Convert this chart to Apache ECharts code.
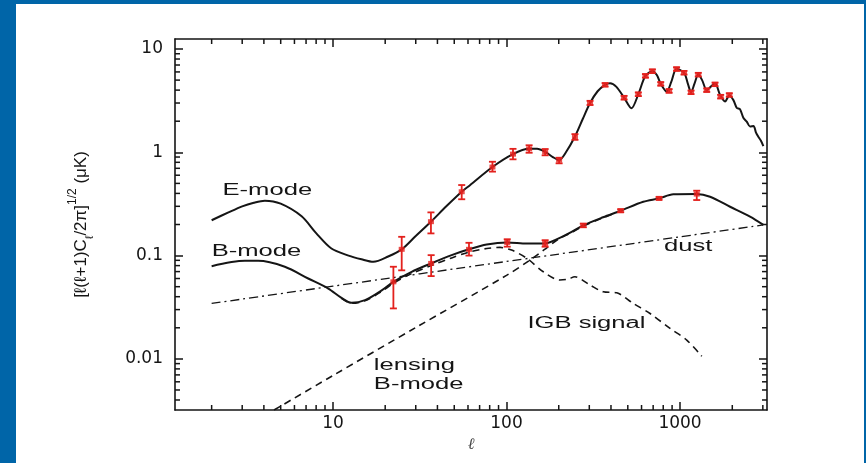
<!DOCTYPE html>
<html>
<head>
<meta charset="utf-8">
<script src="https://cdn.jsdelivr.net/npm/echarts@6/dist/echarts.min.js"></script>
<style>
  html, body { margin: 0; padding: 0; background: #fff; }
  #chart { position: absolute; left: 0; top: 0; width: 866px; height: 463px; }
  .band { position: absolute; background: #0065a8; }
</style>
</head>
<body>
<div id="chart"></div>
<div class="band" style="left:0;top:0;width:16px;height:463px"></div>
<div class="band" style="left:0;top:0;width:866px;height:4px"></div>
<div class="band" style="left:864px;top:0;width:2px;height:463px"></div>
<script>
// axis ranges and ticks (log-log)
const xRange = [1.23, 3170];
const yRange = [0.0032, 12.5];
const xMajor = [10, 100, 1000];
const xMinor = [2, 3, 4, 5, 6, 7, 8, 9, 20, 30, 40, 50, 60, 70, 80, 90,
  200, 300, 400, 500, 600, 700, 800, 900, 2000, 3000];
const yMajor = [0.01, 0.1, 1, 10];
const yMinor = [0.004, 0.005, 0.006, 0.007, 0.008, 0.009, 0.02, 0.03, 0.04, 0.05, 0.06, 0.07, 0.08, 0.09,
  0.2, 0.3, 0.4, 0.5, 0.6, 0.7, 0.8, 0.9, 2, 3, 4, 5, 6, 7, 8, 9];

// model curves [ell, value]
const eMode = [[2, 0.22], [2.5, 0.262], [3, 0.3], [3.5, 0.325], [4.05, 0.34], [5, 0.318], [6.6, 0.24],
  [8, 0.165], [9.8, 0.117], [12.3, 0.1], [14.6, 0.092], [17.1, 0.087], [20.8, 0.098], [24.9, 0.115],
  [30, 0.155], [36.7, 0.213], [45, 0.3], [55.2, 0.415], [61.6, 0.48], [83, 0.72], [109, 0.96],
  [135, 1.08], [150, 1.08], [167, 1.01], [185, 0.9], [201, 0.84], [220, 1.0], [248, 1.42], [275, 2.1],
  [303, 3.0], [335, 3.9], [370, 4.5], [395, 4.66], [430, 4.3], [476, 3.38], [525, 2.67], [575, 3.65],
  [632, 5.5], [693, 6.1], [735, 5.6], [774, 4.6], [838, 3.87], [890, 4.8], [955, 6.4], [1054, 5.9],
  [1110, 4.6], [1157, 3.81], [1210, 4.6], [1274, 5.65], [1340, 5.0], [1425, 4.0], [1500, 4.3],
  [1591, 4.66], [1700, 3.6], [1817, 3.1], [1923, 3.55], [2030, 3.2], [2120, 2.7], [2216, 2.61],
  [2320, 2.15], [2423, 1.98], [2530, 1.78], [2650, 1.8], [2740, 1.55], [2820, 1.42], [2920, 1.3],
  [3020, 1.15]];
const bMode = [[2, 0.079], [3.11, 0.089], [3.7, 0.089], [5.28, 0.078], [7.2, 0.06], [9.4, 0.048],
  [11.2, 0.039], [12.8, 0.0349], [15.3, 0.037], [19.1, 0.046], [22.3, 0.0557], [28.4, 0.0697],
  [36.8, 0.084], [48.3, 0.101], [60.8, 0.115], [76.9, 0.128], [101, 0.134], [131, 0.131],
  [167, 0.131], [190, 0.141], [230, 0.165], [277, 0.196], [360, 0.235], [455, 0.272], [614, 0.332],
  [757, 0.358], [915, 0.392], [1248, 0.394], [1489, 0.371], [1942, 0.297], [2531, 0.238], [3020, 0.198]];
const dust = [[2, 0.0344], [10, 0.0506], [100, 0.0877], [1000, 0.152], [3020, 0.198]];
const lensing = [[4, 0.0028], [10, 0.0069], [30, 0.0201], [100, 0.0643], [136, 0.09], [165, 0.114],
  [200, 0.145], [230, 0.163], [277, 0.193], [360, 0.232], [455, 0.27]];
const igb = [[11.2, 0.0385], [12.8, 0.0345], [15.3, 0.0365], [19.1, 0.045], [22.3, 0.054], [28.4, 0.067],
  [36.8, 0.08], [48.3, 0.095], [60.8, 0.108], [76.9, 0.117], [91.8, 0.12], [107, 0.113], [131, 0.094],
  [163, 0.0697], [203, 0.058], [225, 0.059], [248, 0.0623], [303, 0.0518], [361, 0.0446],
  [432, 0.0436], [538, 0.0344], [672, 0.0275], [876, 0.0197], [1093, 0.0152], [1334, 0.0106]];

// measured points [ell, value, low, high]
const ePoints = [[24.9, 0.115, 0.072, 0.152], [36.7, 0.213, 0.164, 0.262], [55.2, 0.415, 0.351, 0.482],
  [83, 0.72, 0.65, 0.81], [109, 0.96, 0.855, 1.08], [135, 1.08, 0.99, 1.17], [167, 1.01, 0.935, 1.076],
  [201, 0.84, 0.782, 0.886], [248, 1.42, 1.32, 1.5], [303, 3.0, 2.87, 3.15], [370, 4.5, 4.33, 4.68],
  [476, 3.38, 3.24, 3.52], [575, 3.65, 3.5, 3.8], [632, 5.5, 5.28, 5.72], [693, 6.1, 5.85, 6.35],
  [774, 4.6, 4.42, 4.78], [865, 3.93, 3.77, 4.09], [955, 6.4, 6.14, 6.66], [1054, 5.9, 5.66, 6.14],
  [1157, 3.81, 3.66, 3.96], [1274, 5.65, 5.42, 5.88], [1425, 4.0, 3.84, 4.16], [1591, 4.55, 4.37, 4.73],
  [1714, 3.46, 3.32, 3.6], [1923, 3.59, 3.45, 3.73]];
const bPoints = [[22.3, 0.0557, 0.0308, 0.078], [36.8, 0.084, 0.0633, 0.101], [60.8, 0.115, 0.1, 0.133],
  [101, 0.134, 0.122, 0.144], [167, 0.131, 0.122, 0.141], [277, 0.196, 0.188, 0.204],
  [455, 0.272, 0.263, 0.281], [757, 0.358, 0.347, 0.369], [1248, 0.394, 0.345, 0.425]];

// annotations anchored at [ell, value] (left edge, vertical middle)
const notes = [
  { text: 'E-mode', at: [2.31, 0.424] },
  { text: 'B-mode', at: [2.0, 0.109] },
  { text: 'dust', at: [809, 0.121] },
  { text: 'IGB signal', at: [132, 0.0218] },
  { text: 'lensing', at: [17.2, 0.0087] },
  { text: 'B-mode', at: [17.2, 0.0057] }
];

const ink = '#151515';
const red = '#e3211d';
const font = 'Liberation Sans';

// a grid holds two x and two y axes at most: main (labels) + mirrored side
function axis(pos, range, labels) {
  return {
    type: 'log', position: pos, min: range[0], max: range[1], z: 10,
    axisLine: { show: true, lineStyle: { color: ink, width: 1.6 } },
    axisTick: { show: true, inside: true, length: 8, customValues: labels || (pos === 'top' ? xMajor : yMajor),
      lineStyle: { color: ink, width: 1.5 } },
    axisLabel: labels ? {
      show: true, customValues: labels, color: ink, fontFamily: 'DejaVu Sans', fontSize: 17,
      margin: pos === 'left' ? 12 : 5,
      formatter: v => String(+Number(v).toPrecision(3))
    } : { show: false },
    splitLine: { show: false }
  };
}

// short minor ticks on both sides of the frame, placed by the axis scales
function minorTicks(dim) {
  return function (params, api) {
    const cs = params.coordSys;
    const p = api.coord([api.value(0), api.value(1)]);
    const len = 5;
    const st = { stroke: ink, lineWidth: 1.5 };
    const a = dim === 'x'
      ? [[p[0], cs.y + cs.height, p[0], cs.y + cs.height - len], [p[0], cs.y, p[0], cs.y + len]]
      : [[cs.x, p[1], cs.x + len, p[1]], [cs.x + cs.width, p[1], cs.x + cs.width - len, p[1]]];
    return {
      type: 'group',
      children: a.map(s => ({ type: 'line', shape: { x1: s[0], y1: s[1], x2: s[2], y2: s[3] }, style: st }))
    };
  };
}

function errBars(params, api) {
  const x = api.value(0);
  const lo = api.coord([x, api.value(2)]);
  const hi = api.coord([x, api.value(3)]);
  const w = 3.5;
  const st = { stroke: red, lineWidth: 1.8 };
  return {
    type: 'group',
    children: [
      { type: 'line', shape: { x1: lo[0], y1: lo[1], x2: hi[0], y2: hi[1] }, style: st },
      { type: 'line', shape: { x1: lo[0] - w, y1: lo[1], x2: lo[0] + w, y2: lo[1] }, style: st },
      { type: 'line', shape: { x1: hi[0] - w, y1: hi[1], x2: hi[0] + w, y2: hi[1] }, style: st }
    ]
  };
}

function curve(name, data, type, width) {
  return {
    name, type: 'line', data, showSymbol: false, smooth: 0.3,
    lineStyle: { color: ink, width, type }
  };
}

const dom = document.getElementById('chart');
const chart = echarts.init(dom);
const option = {
  animation: false,
  grid: { left: 175, right: 99, top: 39, bottom: 53 },
  xAxis: [
    Object.assign(axis('bottom', xRange, xMajor), {
      name: 'ℓ', nameLocation: 'middle', nameGap: 27,
      nameTextStyle: { fontFamily: 'DejaVu Serif', fontStyle: 'italic', fontSize: 16, color: '#444' }
    }),
    axis('top', xRange, null)
  ],
  yAxis: [
    Object.assign(axis('left', yRange, yMajor), {
      name: '{b|[ℓ(ℓ+1)C}{sub|ℓ}{b|/2π]}{sup|1/2}{b| (μK)}',
      nameLocation: 'middle', nameRotate: 90, nameGap: 80,
      nameTextStyle: {
        color: ink,
        rich: {
          b: { fontFamily: font, fontSize: 17, color: ink, lineHeight: 28, verticalAlign: 'middle' },
          sub: { fontFamily: font, fontSize: 11, color: ink, verticalAlign: 'bottom', lineHeight: 28 },
          sup: { fontFamily: font, fontSize: 12, color: ink, verticalAlign: 'top', lineHeight: 28 }
        }
      }
    }),
    axis('right', yRange, null)
  ],
  series: [
    curve('E-mode', eMode, 'solid', 2),
    curve('B-mode', bMode, 'solid', 2),
    curve('dust', dust, [9, 4, 2, 4], 1.3),
    curve('lensing B-mode', lensing, [7, 5], 1.6),
    curve('IGB signal', igb, [7, 5], 1.6),
    { type: 'custom', renderItem: minorTicks('x'), data: xMinor.map(v => [v, yRange[0]]), z: 10, silent: true },
    { type: 'custom', renderItem: minorTicks('y'), data: yMinor.map(v => [xRange[0], v]), z: 10, silent: true },
    { type: 'custom', renderItem: errBars, data: ePoints, z: 5 },
    { type: 'custom', renderItem: errBars, data: bPoints, z: 5 },
    { type: 'scatter', data: ePoints, symbol: 'rect', symbolSize: [6, 5], itemStyle: { color: red }, z: 6 },
    { type: 'scatter', data: bPoints, symbol: 'rect', symbolSize: [6, 5], itemStyle: { color: red }, z: 6 }
  ]
};
chart.setOption(option);

// text labels, stretched like the source figure
chart.setOption({
  graphic: notes.map(n => {
    const p = chart.convertToPixel({ seriesIndex: 0 }, n.at);
    return {
      type: 'text', x: p[0], y: p[1], scaleX: 1.6, silent: true,
      style: { text: n.text, fontFamily: font, fontSize: 16, fill: ink,
        align: 'left', verticalAlign: 'middle', textAlign: 'left', textVerticalAlign: 'middle' }
    };
  })
});
</script>
</body>
</html>
